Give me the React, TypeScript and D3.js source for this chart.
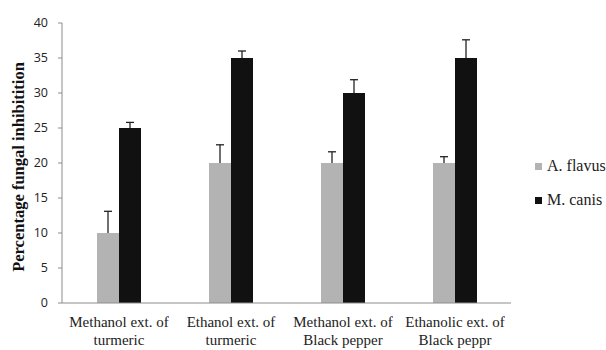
import React, { useEffect, useRef } from 'react';
import * as d3 from 'd3';

const categories = [
  ['Methanol ext. of', 'turmeric'],
  ['Ethanol ext. of', 'turmeric'],
  ['Methanol ext. of', 'Black pepper'],
  ['Ethanolic ext. of', 'Black peppr'],
];
const seriesNames = ['A. flavus', 'M. canis'];
const seriesColors = ['#b3b3b3', '#111111'];
const flavus = [10, 20, 20, 20];
const flavusErr = [3.1, 2.6, 1.6, 0.9];
const canis = [25, 35, 30, 35];
const canisErr = [0.8, 1.0, 1.9, 2.6];
const yTicks = [0, 5, 10, 15, 20, 25, 30, 35, 40];

export default function App() {
  const ref = useRef<SVGSVGElement>(null);

  useEffect(() => {
    const svg = d3.select(ref.current);
    svg.selectAll('*').remove();
    const axisX = 62, left = 63, right = 511, top = 23, bottom = 303;

    const x = d3.scaleBand().domain(categories.map((_, i) => String(i))).range([left, right]);
    const y = d3.scaleLinear().domain([0, 40]).range([bottom, top]);
    const barW = 22;

    // y axis
    svg.append('line')
      .attr('x1', axisX).attr('x2', axisX).attr('y1', top).attr('y2', bottom)
      .attr('stroke', '#8c8c8c');
    svg.selectAll('.ytick').data(yTicks).enter().append('line')
      .attr('x1', axisX - 4).attr('x2', axisX)
      .attr('y1', d => y(d)).attr('y2', d => y(d))
      .attr('stroke', '#8c8c8c');
    svg.selectAll('.ylab').data(yTicks).enter().append('text')
      .attr('x', axisX - 14).attr('y', d => y(d) + 4)
      .attr('text-anchor', 'end')
      .style('font-family', 'Open Sans, sans-serif').style('font-size', '12.5px')
      .attr('fill', '#222')
      .text(d => d);

    const groups = [
      { vals: flavus, errs: flavusErr, off: -barW },
      { vals: canis, errs: canisErr, off: 0 },
    ];
    groups.forEach((g, si) => {
      const gg = svg.append('g');
      gg.selectAll('rect').data(g.vals).enter().append('rect')
        .attr('x', (_, i) => x(String(i))! + x.bandwidth() / 2 + g.off)
        .attr('width', barW)
        .attr('y', d => y(d))
        .attr('height', d => bottom - y(d))
        .attr('fill', seriesColors[si]);
      g.vals.forEach((v, i) => {
        const cx = x(String(i))! + x.bandwidth() / 2 + g.off + barW / 2;
        gg.append('line').attr('x1', cx).attr('x2', cx)
          .attr('y1', y(v)).attr('y2', y(v + g.errs[i]))
          .attr('stroke', '#222').attr('stroke-width', 1.3);
        gg.append('line').attr('x1', cx - 4).attr('x2', cx + 4)
          .attr('y1', y(v + g.errs[i])).attr('y2', y(v + g.errs[i]))
          .attr('stroke', '#222').attr('stroke-width', 1.3);
      });
    });

    // x axis
    svg.append('line')
      .attr('x1', axisX).attr('x2', right).attr('y1', bottom).attr('y2', bottom)
      .attr('stroke', '#8c8c8c');

    categories.forEach((lines, i) => {
      const t = svg.append('text')
        .attr('x', x(String(i))! + x.bandwidth() / 2)
        .attr('y', 327)
        .attr('text-anchor', 'middle')
        .style('font-family', 'Liberation Serif, serif').style('font-size', '15px')
        .attr('fill', '#222');
      lines.forEach((l, j) => {
        t.append('tspan').attr('x', x(String(i))! + x.bandwidth() / 2)
          .attr('dy', j === 0 ? 0 : 18).text(l);
      });
    });

    svg.append('text')
      .attr('transform', `translate(24,167) rotate(-90)`)
      .attr('text-anchor', 'middle')
      .style('font-family', 'Liberation Serif, serif').style('font-size', '16.5px')
      .style('font-weight', 'bold')
      .attr('fill', '#111')
      .text('Percentage fungal inhibitition');

    seriesNames.forEach((n, i) => {
      const ly = 166 + i * 34;
      svg.append('rect').attr('x', 535).attr('y', ly - 3).attr('width', 7).attr('height', 7)
        .attr('fill', seriesColors[i]);
      svg.append('text').attr('x', 547).attr('y', ly + 5)
        .style('font-family', 'Liberation Serif, serif').style('font-size', '16px')
        .attr('fill', '#222')
        .text(n);
    });
  }, []);

  return (
    <svg ref={ref} width={606} height={350}
      style={{ position: 'absolute', left: 0, top: 0, background: '#fff' }} />
  );
}
